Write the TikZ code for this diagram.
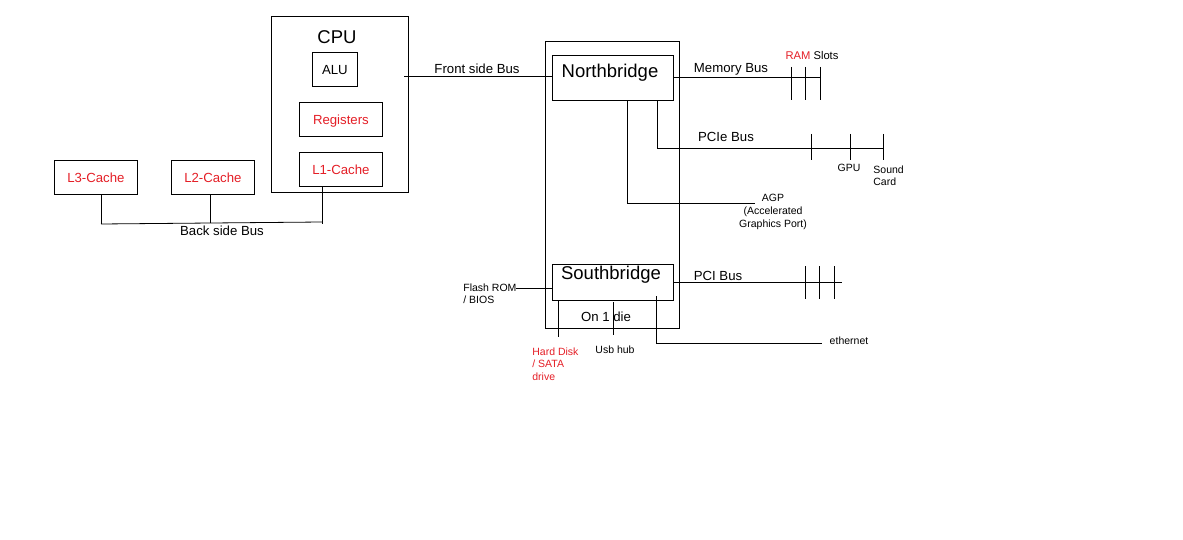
\documentclass[tikz,border=0pt]{standalone}
\usepackage{fontspec}
\setmainfont{Liberation Sans}
\definecolor{lblred}{RGB}{228,30,38}
\begin{document}
\begin{tikzpicture}[x=1pt,y=-1pt,line width=0.8pt,
  box/.style={draw,inner sep=0pt,anchor=north west},
  txt/.style={inner sep=0pt,font=\fontsize{13.2}{15}\selectfont},
  small/.style={inner sep=0pt,font=\fontsize{10.5}{12.8}\selectfont,align=left},
  big/.style={inner sep=0pt,font=\fontsize{18.5}{20}\selectfont},
  red/.style={text=lblred}]
\useasboundingbox (0,0) rectangle (1183,540);
% CPU
\node[box,minimum width=137,minimum height=176] (cpu) at (271,16) {};
\node[big] (cputxt) at (337,37) {CPU};
\node[box,minimum width=45,minimum height=34] (alu) at (312,52) {};
\node[txt] at ([yshift=-1]alu.center) {ALU};
\node[box,minimum width=83,minimum height=34] (reg) at (299,102) {};
\node[txt,red] at ([yshift=-2]reg.center) {Registers};
\node[box,minimum width=83,minimum height=34] (l1) at (299,152) {};
\node[txt,red] at (l1.center) {L1-Cache};
\node[box,minimum width=83,minimum height=34] (l3) at (54,160) {};
\node[txt,red] at (l3.center) {L3-Cache};
\node[box,minimum width=83,minimum height=34] (l2) at (171,160) {};
\node[txt,red] at (l2.center) {L2-Cache};
% back side bus
\coordinate (bsl) at (101,224);
\coordinate (bsm) at (210,223);
\coordinate (bsr) at (322,222);
\draw (bsl) -- (bsr);
\draw (l3.south -| bsl) -- (bsl);
\draw (l2.south -| bsm) -- (bsm);
\draw (l1.south -| bsr) -- ([yshift=-2]bsr);
\node[txt] (bsb) at (222,231) {Back side Bus};
% chipset
\node[box,minimum width=134,minimum height=287] (chip) at (545,41) {};
\node[box,minimum width=121,minimum height=45] (nb) at (552,55) {};
\node[big] at (610,73) {Northbridge};
\node[box,minimum width=121,minimum height=36] (sb) at (552,264) {};
\node[big] at (611,275) {Southbridge};
\node[txt] (die) at (606,317) {On 1 die};
% front side bus
\coordinate (fsb0) at (404,76);
\draw (fsb0) -- (nb.west |- fsb0);
\node[txt] (fsbl) at (477,69) {Front side Bus};
% memory bus
\coordinate (mb1) at (791,77);
\coordinate (mb2) at (805,77);
\coordinate (mb3) at (820,77);
\draw (nb.east |- mb1) -- (mb3);
\foreach \c in {mb1,mb2,mb3} \draw ([yshift=10]\c) -- ([yshift=-23]\c);
\node[small,font=\fontsize{11.2}{13}\selectfont] (ram) at (812,55) {\textcolor{lblred}{RAM} Slots};
\node[txt] (mbl) at (731,69) {Memory Bus};
% PCIe
\coordinate (pe0) at (657,148);
\coordinate (pe1) at (811,148);
\coordinate (pe2) at (850,148);
\coordinate (pe3) at (883,148);
\draw (nb.south -| pe0) -- (pe0) -- (pe3);
\foreach \c in {pe1,pe2,pe3} \draw ([yshift=14]\c) -- ([yshift=-12]\c);
\node[txt] (pel) at (726,137) {PCIe Bus};
\node[small] (gpu) at (849,168) {GPU};
\node[small,anchor=north west] (snd) at (873,165) {Sound\\Card};
% AGP
\coordinate (agp0) at (627,203);
\coordinate (agp1) at (755,203);
\draw (nb.south -| agp0) -- (agp0) -- (agp1);
\node[small,align=center,anchor=north] (agp) at (773,194) {AGP\\(Accelerated\\Graphics Port)};
% PCI
\coordinate (pci1) at (805,282);
\coordinate (pci2) at (819,282);
\coordinate (pci3) at (834,282);
\coordinate (pcie) at (842,282);
\draw (sb.east |- pci1) -- (pcie);
\foreach \c in {pci1,pci2,pci3} \draw ([yshift=16]\c) -- ([yshift=-17]\c);
\node[txt] (pcil) at (718,276) {PCI Bus};
% Flash ROM
\coordinate (fl1) at (516,288);
\node[small,anchor=north west] (flash) at (463,283) {Flash ROM\\/ BIOS};
\draw (fl1) -- (sb.west |- fl1);
% Hard disk
\coordinate (hd) at (558,337);
\draw (sb.south -| hd) -- (hd);
\node[small,red,anchor=north west] (hdl) at (532,347) {Hard Disk\\/ SATA\\drive};
% USB
\coordinate (usb0) at (613,302);
\coordinate (usb) at (613,335);
\draw (usb0) -- (usb);
\node[small] (usbl) at (615,350) {Usb hub};
% ethernet
\coordinate (eth0) at (656,296);
\coordinate (eth1) at (656,343);
\coordinate (eth2) at (822,343);
\draw (eth0) -- (eth1) -- (eth2);
\node[small] (ethl) at (849,341) {ethernet};
\end{tikzpicture}
\end{document}
